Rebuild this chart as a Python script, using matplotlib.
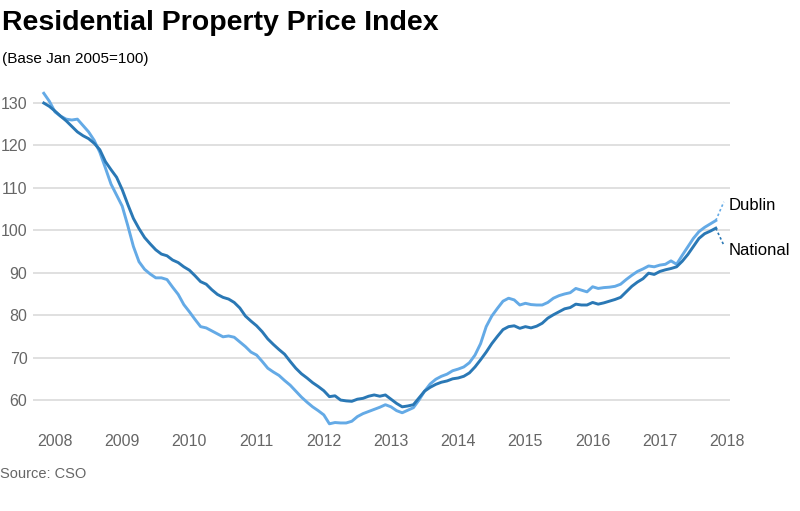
import numpy as np
import matplotlib.pyplot as plt

# monthly index values, Nov 2007 .. Nov 2017 (Base Jan 2005 = 100)
start_year = 2007 + 10 / 12
national = [
    130.0, 129.2, 128.1, 126.9, 125.8, 124.5, 123.2, 122.3, 121.6, 120.5,
    119.0, 116.2, 114.3, 112.5, 109.6, 106.1, 102.8, 100.4, 98.3, 96.8,
    95.4, 94.4, 94.0, 93.0, 92.4, 91.4, 90.6, 89.3, 87.9, 87.3,
    86.0, 84.9, 84.2, 83.8, 83.0, 81.7, 79.8, 78.6, 77.5, 76.1,
    74.4, 73.1, 71.9, 70.8, 69.1, 67.5, 66.2, 65.2, 64.1, 63.2,
    62.2, 60.8, 61.0, 60.0, 59.8, 59.7, 60.2, 60.4, 60.9, 61.2,
    60.9, 61.2, 60.2, 59.2, 58.4, 58.6, 58.9, 60.5, 62.1, 63.0,
    63.7, 64.2, 64.5, 65.0, 65.2, 65.6, 66.4, 67.8, 69.5, 71.3,
    73.3, 75.0, 76.6, 77.3, 77.5, 76.9, 77.3, 77.0, 77.4, 78.1,
    79.3, 80.1, 80.8, 81.5, 81.8, 82.6, 82.4, 82.4, 83.0, 82.6,
    82.9, 83.3, 83.7, 84.2, 85.5, 86.8, 87.8, 88.6, 89.9, 89.6,
    90.3, 90.7, 91.0, 91.4, 92.7, 94.3, 96.2, 98.1, 99.2, 99.8,
    100.5,
]
dublin = [
    132.3, 130.4, 127.9, 126.9, 126.2, 126.0, 126.2, 124.7, 123.2, 121.2,
    118.4, 114.7, 110.9, 108.3, 105.7, 101.1, 96.2, 92.6, 90.8, 89.7,
    88.8, 88.8, 88.4, 86.6, 84.9, 82.5, 80.8, 79.0, 77.3, 77.0,
    76.3, 75.6, 74.9, 75.1, 74.8, 73.7, 72.6, 71.3, 70.6, 69.1,
    67.5, 66.6, 65.8, 64.6, 63.5, 62.1, 60.7, 59.5, 58.4, 57.5,
    56.5, 54.4, 54.7, 54.6, 54.6, 55.0, 56.1, 56.8, 57.3, 57.8,
    58.3, 58.9, 58.4, 57.5, 57.0, 57.6, 58.2, 60.0, 62.1, 63.8,
    64.9, 65.6, 66.1, 66.9, 67.3, 67.8, 68.8, 70.6, 73.3, 77.3,
    79.8, 81.6, 83.3, 84.0, 83.6, 82.4, 82.8, 82.5, 82.4, 82.4,
    83.0, 84.0, 84.6, 85.0, 85.3, 86.3, 85.9, 85.5, 86.7, 86.3,
    86.5, 86.6, 86.8, 87.3, 88.4, 89.4, 90.3, 90.9, 91.6, 91.4,
    91.8, 92.0, 92.8, 92.0, 94.1, 96.1, 98.1, 99.7, 100.7, 101.5,
    102.3,
]
years = list(range(2008, 2019))
yticks = [60, 70, 80, 90, 100, 110, 120, 130]

t = start_year + np.arange(len(national)) / 12

dark = '#2a78b5'
light = '#64aae6'
grey = '#666666'

plt.rcParams['font.family'] = ['Liberation Sans', 'DejaVu Sans']

fig = plt.figure(figsize=(8, 5.11), dpi=100)
ax = fig.add_axes([33 / 800, 1 - 425.5 / 511, (730 - 33) / 800, (425.5 - 90.3) / 511])

ax.plot(t, dublin, color=light, lw=2.1, solid_joinstyle='round', zorder=3)
ax.plot(t, national, color=dark, lw=2.1, solid_joinstyle='round', zorder=4)

# dotted leaders to the end labels
x_lab = t[-1] + 8 / 67.2
ax.plot([t[-1], x_lab], [dublin[-1], 106.7], color=light, lw=1.2, ls=(0, (1.5, 1.5)), clip_on=False)
ax.plot([t[-1], x_lab], [national[-1], 96.5], color=dark, lw=1.2, ls=(0, (1.5, 1.5)), clip_on=False)
ax.text(t[-1] + 13 / 67.2, 105.9, 'Dublin', fontsize=12, va='center', ha='left', clip_on=False)
ax.text(t[-1] + 13 / 67.2, 95.2, 'National', fontsize=12, va='center', ha='left', clip_on=False)

ax.set_xlim(2008 - 22 / 67.2, 2008 + 675 / 67.2)
ax.set_ylim(54, 133)
ax.set_xticks(years)
ax.set_xticklabels([str(y) for y in years])
ax.set_yticks(yticks)
ax.tick_params(axis='both', length=0, labelsize=11.5, labelcolor=grey)
ax.tick_params(axis='x', pad=6)
ax.tick_params(axis='y', pad=4)
ax.grid(axis='y', color='#dddddd', lw=1.3)
ax.set_axisbelow(True)
for s in ax.spines.values():
    s.set_visible(False)

fig.text(2 / 800, 1 - 30 / 511, 'Residential Property Price Index', fontsize=20.5,
         fontweight='bold', va='baseline', ha='left')
fig.text(2 / 800, 1 - 63 / 511, '(Base Jan 2005=100)', fontsize=11, va='baseline', ha='left')
fig.text(0, 1 - 478 / 511, 'Source: CSO', fontsize=10.5, color=grey, va='baseline', ha='left')

fig.savefig('out.png', dpi=100)
